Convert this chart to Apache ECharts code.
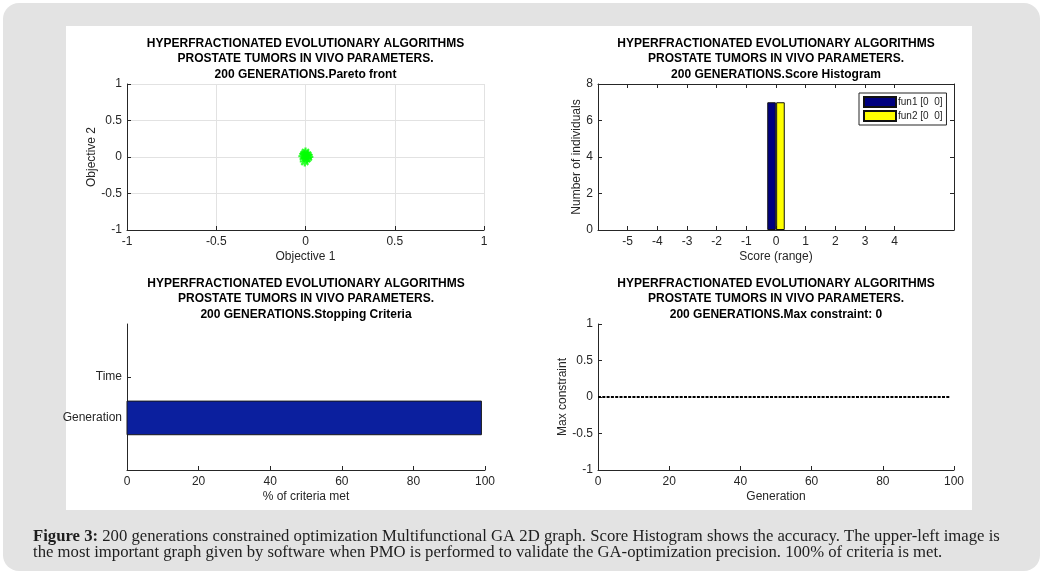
<!DOCTYPE html>
<html><head><meta charset="utf-8">
<script src="https://cdn.jsdelivr.net/npm/echarts@6/dist/echarts.min.js"></script>
<style>html,body{margin:0;padding:0;background:#fff}#c{width:1043px;height:575px}</style>
</head><body><div id="c"></div>
<script>
// ---------- data ----------
const titleHead = ['HYPERFRACTIONATED EVOLUTIONARY ALGORITHMS', 'PROSTATE TUMORS IN VIVO PARAMETERS.'];
const panelTitles = ['200 GENERATIONS.Pareto front', '200 GENERATIONS.Score Histogram',
                     '200 GENERATIONS.Stopping Criteria', '200 GENERATIONS.Max constraint: 0'];
// Pareto front: cluster of 7 individuals around (0,0)
const paretoPoints = [[0, 0.06], [0.012, 0.025], [-0.012, 0.01], [0.008, -0.02], [-0.004, -0.06], [0.016, 0.0], [-0.006, 0.035]];
// Score histogram
const histTicks = [-5, -4, -3, -2, -1, 0, 1, 2, 3, 4];
const fun1Bars = [[-0.15, 7]];
const fun2Bars = [[0.15, 7]];
const histNames = ['fun1 [0  0]', 'fun2 [0  0]'];
// Stopping criteria
const stopCategories = ['Generation', 'Time'];
const stopValues = [99, 0];
// Max constraint per generation
const generations = [0,1,2,3,4,5,6,7,8,9,10,11,12,13,14,15,16,17,18,19,20,21,22,23,24,25,26,27,28,29,30,31,32,33,34,35,36,37,38,39,40,41,42,43,44,45,46,47,48,49,50,51,52,53,54,55,56,57,58,59,60,61,62,63,64,65,66,67,68,69,70,71,72,73,74,75,76,77,78,79,80,81,82,83,84,85,86,87,88,89,90,91,92,93,94,95,96,97,98,99];
const maxConstraint = [0,0,0,0,0,0,0,0,0,0,0,0,0,0,0,0,0,0,0,0,0,0,0,0,0,0,0,0,0,0,0,0,0,0,0,0,0,0,0,0,0,0,0,0,0,0,0,0,0,0,0,0,0,0,0,0,0,0,0,0,0,0,0,0,0,0,0,0,0,0,0,0,0,0,0,0,0,0,0,0,0,0,0,0,0,0,0,0,0,0,0,0,0,0,0,0,0,0,0,0];
const captionLine1 = ' 200 generations constrained optimization Multifunctional GA 2D graph. Score Histogram shows the accuracy. The upper-left image is';
const captionLine2 = 'the most important graph given by software when PMO is performed to validate the GA-optimization precision. 100% of criteria is met.';

// ---------- styling ----------
const AX = '#262626';
const FONT = 'Liberation Sans';
function axis(o) {
  const base = {
    type: 'value',
    axisLine: { show: true, onZero: false, lineStyle: { color: AX, width: 1 } },
    axisTick: { show: true, inside: true, length: 4, lineStyle: { color: AX, width: 1 } },
    axisLabel: { color: AX, fontSize: 12, fontFamily: FONT, margin: 6 },
    splitLine: { show: false },
    nameLocation: 'middle',
    nameTextStyle: { color: AX, fontSize: 12, fontFamily: FONT }
  };
  for (const k in o) {
    if (base[k] && typeof base[k] === 'object' && !Array.isArray(base[k]) && typeof o[k] === 'object' && !Array.isArray(o[k])) {
      base[k] = Object.assign({}, base[k], o[k]);
    } else base[k] = o[k];
  }
  return base;
}
const gridSplit = { show: true, lineStyle: { color: '#e2e2e2', width: 1 } };

const grids = [
  { left: 127, top: 84, width: 357, height: 146 },
  { left: 598, top: 84, width: 356, height: 146 },
  { left: 127, top: 324, width: 358, height: 146 },
  { left: 598, top: 324, width: 356, height: 146 }
];
const titleCenters = [[305.5, 35.5], [776, 35.5], [306, 275.5], [776, 275.5]];

const graphics = [
  { type: 'rect', z: -10, shape: { x: 3, y: 3, width: 1037, height: 568, r: 16 }, style: { fill: '#e3e3e3' } },
  { type: 'rect', z: -9, shape: { x: 66, y: 26, width: 906, height: 484 }, style: { fill: '#ffffff' } }
];
panelTitles.forEach((t, i) => {
  graphics.push({
    type: 'text', z: 10, x: titleCenters[i][0], y: titleCenters[i][1],
    style: {
      text: titleHead.concat([t]).join('\n'),
      fontFamily: FONT, fontSize: 12, fontWeight: 'bold', lineHeight: 15.5,
      fill: '#000', align: 'center', verticalAlign: 'top'
    }
  });
});
graphics.push({
  type: 'text', z: 10, x: 33, y: 528,
  style: {
    text: '{b|Figure 3:}' + captionLine1 + '\n' + captionLine2,
    fontFamily: 'Liberation Serif', fontSize: 16.7, lineHeight: 16.5, fill: '#1e1e1e',
    rich: { b: { fontFamily: 'Liberation Serif', fontSize: 16.7, fontWeight: 'bold', fill: '#1e1e1e', lineHeight: 16.5 } }
  }
});

const asterisk = 'path://M5,0L5,10M0,5L10,5M1.5,1.5L8.5,8.5M1.5,8.5L8.5,1.5';

const option = {
  animation: false,
  backgroundColor: '#ffffff',
  graphic: graphics,
  grid: grids.map(g => Object.assign({ outerBoundsMode: 'none', containLabel: false }, g)),
  legend: {
    data: histNames, orient: 'vertical', left: 859, top: 93,
    icon: 'rect', itemWidth: 32, itemHeight: 10, itemGap: 2,
    padding: [3, 4, 3, 4], borderColor: '#262626', borderWidth: 1, backgroundColor: '#fff',
    textStyle: { fontSize: 10, fontFamily: FONT, color: AX, padding: [0, 0, 0, -3] },
    selectedMode: false
  },
  xAxis: [
    axis({ gridIndex: 0, min: -1, max: 1, interval: 0.5, name: 'Objective 1', nameGap: 21, splitLine: gridSplit }),
    axis({ gridIndex: 1, min: -6, max: 6, interval: 1, name: 'Score (range)', nameGap: 21,
           axisTick: { customValues: histTicks }, axisLabel: { customValues: histTicks } }),
    axis({ gridIndex: 1, position: 'top', min: -6, max: 6, interval: 1,
           axisTick: { customValues: histTicks }, axisLabel: { show: false } }),
    axis({ gridIndex: 2, min: 0, max: 100, interval: 20, name: '% of criteria met', nameGap: 21 }),
    axis({ gridIndex: 3, min: 0, max: 100, interval: 20, name: 'Generation', nameGap: 21 })
  ],
  yAxis: [
    axis({ gridIndex: 0, min: -1, max: 1, interval: 0.5, name: 'Objective 2', nameGap: 27, splitLine: gridSplit, axisLabel: { margin: 5 } }),
    axis({ gridIndex: 1, min: 0, max: 8, interval: 2, name: 'Number of individuals', nameGap: 14, axisLabel: { margin: 5 } }),
    axis({ gridIndex: 1, position: 'right', min: 0, max: 8, interval: 2, axisLabel: { show: false } }),
    axis({ gridIndex: 2, min: -0.27, max: 3.29,
           axisTick: { customValues: [1, 2] },
           axisLabel: { margin: 5, customValues: [1, 2], formatter: v => stopCategories[Math.round(v) - 1] || '' } }),
    axis({ gridIndex: 3, min: -1, max: 1, interval: 0.5, name: 'Max constraint', nameGap: 28, axisLabel: { margin: 5 } })
  ],
  series: [
    {
      type: 'scatter', xAxisIndex: 0, yAxisIndex: 0, data: paretoPoints,
      symbol: asterisk, symbolSize: 10,
      itemStyle: { color: 'rgba(0,0,0,0)', borderColor: '#00ff00', borderWidth: 2.2 }
    },
    {
      name: histNames[0], type: 'bar', xAxisIndex: 1, yAxisIndex: 1, data: fun1Bars,
      barWidth: 8.6, barGap: '-100%',
      itemStyle: { color: '#00007f', borderColor: '#111', borderWidth: 1 }
    },
    {
      name: histNames[1], type: 'bar', xAxisIndex: 1, yAxisIndex: 1, data: fun2Bars,
      barWidth: 8.6, barGap: '-100%',
      itemStyle: { color: '#ffff00', borderColor: '#111', borderWidth: 1 }
    },
    {
      type: 'custom', xAxisIndex: 3, yAxisIndex: 3,
      data: stopValues.map((v, i) => [v, i + 1]),
      encode: { x: 0, y: 1 },
      renderItem: function (params, api) {
        const v = api.value(0), y = api.value(1);
        if (!(v > 0)) return null;
        const p0 = api.coord([0, y]), p1 = api.coord([v, y]);
        const h = api.size([0, 0.82])[1];
        return { type: 'rect', shape: { x: p0[0], y: p0[1] - h / 2, width: p1[0] - p0[0], height: h },
                 style: { fill: '#0b1f9e', stroke: '#1a1a1a', lineWidth: 1 } };
      }
    },
    {
      type: 'line', xAxisIndex: 4, yAxisIndex: 4,
      data: generations.map((g, i) => [g, maxConstraint[i]]),
      showSymbol: false, symbol: 'none',
      lineStyle: { color: '#000', width: 1.8, type: [3, 1.3] }
    }
  ]
};
const chart = echarts.init(document.getElementById('c'), null, { renderer: 'canvas' });
chart.setOption(option);
</script>
</body></html>
